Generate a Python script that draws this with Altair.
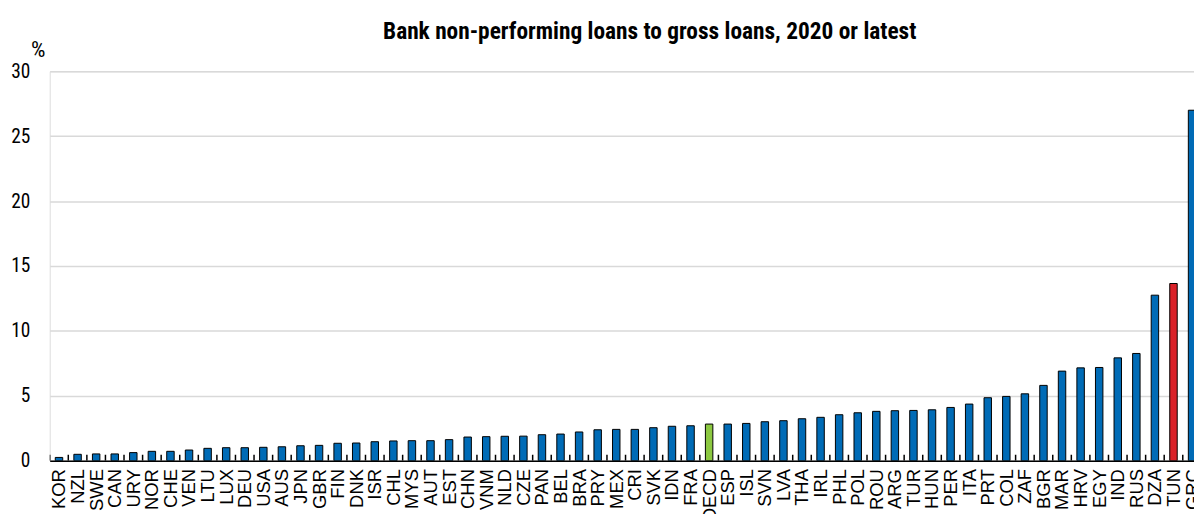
import altair as alt
import pandas as pd

countries = ["KOR", "NZL", "SWE", "CAN", "URY", "NOR", "CHE", "VEN", "LTU", "LUX",
             "DEU", "USA", "AUS", "JPN", "GBR", "FIN", "DNK", "ISR", "CHL", "MYS",
             "AUT", "EST", "CHN", "VNM", "NLD", "CZE", "PAN", "BEL", "BRA", "PRY",
             "MEX", "CRI", "SVK", "IDN", "FRA", "OECD", "ESP", "ISL", "SVN", "LVA",
             "THA", "IRL", "PHL", "POL", "ROU", "ARG", "TUR", "HUN", "PER", "ITA",
             "PRT", "COL", "ZAF", "BGR", "MAR", "HRV", "EGY", "IND", "RUS", "DZA",
             "TUN", "GRC"]
values = [0.25, 0.49, 0.52, 0.52, 0.62, 0.72, 0.72, 0.82, 0.95, 1.0,
          1.0, 1.03, 1.07, 1.15, 1.18, 1.34, 1.36, 1.46, 1.52, 1.54,
          1.54, 1.62, 1.82, 1.85, 1.88, 1.89, 2.0, 2.05, 2.21, 2.38,
          2.41, 2.41, 2.54, 2.65, 2.69, 2.82, 2.82, 2.87, 3.0, 3.08,
          3.23, 3.34, 3.54, 3.69, 3.80, 3.85, 3.87, 3.92, 4.1, 4.36,
          4.85, 4.95, 5.15, 5.8, 6.9, 7.15, 7.18, 7.92, 8.26, 12.75,
          13.65, 27.0]
highlight = {"OECD": "OECD", "TUN": "TUN"}

df = pd.DataFrame({"country": countries, "value": values,
                   "pos": list(range(len(countries)))})
df["grp"] = [highlight.get(c, "other") for c in countries]

NARROW = "Liberation Sans Narrow, Arial Narrow, Roboto Condensed, Liberation Sans, Arial"
REG = "Liberation Sans, Arial, sans-serif"

W = 1152
band = 18.70
# visible window: first band starts at the left edge, last band is cut by the right edge
x_domain = [-0.5, W / band - 0.5]
label_expr = "[" + ",".join("'%s'" % c for c in countries) + "][datum.value]"

xscale = alt.Scale(domain=x_domain, nice=False, zero=False, padding=0)

bars = alt.Chart(df).mark_bar(size=7.5, stroke="black", strokeWidth=1, clip=True).encode(
    x=alt.X("pos:Q", scale=xscale,
            axis=alt.Axis(title=None, values=list(range(len(countries))),
                          tickCount=200,
                          labelExpr=label_expr, labelAngle=-90, labelAlign="right",
                          labelBaseline="middle", labelFont=REG, labelFontSize=18.5,
                          labelColor="black", labelPadding=8, ticks=False, grid=False,
                          labelFlush=False, labelBound=False, labelOverlap=False,
                          domainColor="black", domainWidth=1.5)),
    y=alt.Y("value:Q", scale=alt.Scale(domain=[0, 30], nice=False),
            axis=alt.Axis(values=[0, 5, 10, 15, 20, 25, 30], title="%", titleAngle=0,
                          titleX=-12, titleY=-15, titleAlign="center",
                          titleBaseline="alphabetic", titleFont=NARROW,
                          titleFontSize=23, titleFontWeight="normal", titleColor="black",
                          labelFont=NARROW, labelFontSize=19.5, labelColor="black",
                          labelPadding=20, ticks=False, domain=False,
                          gridColor="#d9d9d9", gridWidth=1.5)),
    color=alt.Color("grp:N", scale=alt.Scale(domain=["other", "OECD", "TUN"],
                                             range=["#006BB6", "#8CC841", "#DA2128"]),
                    legend=None),
)

ticks = alt.Chart(df).mark_rule(color="black", strokeWidth=1.5, clip=True).encode(
    x=alt.X("pos:Q", scale=xscale),
    xOffset=alt.value(-band / 2),
    y=alt.Y(datum=0),
    y2=alt.Y2(datum=0.46),
)

chart = alt.layer(bars, ticks).properties(
    width=W,
    height=392,
    title=alt.TitleParams("Bank non-performing loans to gross loans, 2020 or latest",
                          font=NARROW, fontSize=23.5, fontWeight="bold", color="black",
                          anchor="middle", dx=28, offset=0, dy=24, baseline="alphabetic"),
    padding={"left": 42, "top": 62, "right": 0, "bottom": 56},
    autosize=alt.AutoSizeParams(type="none"),
).configure_view(stroke=None).configure(background="white")

chart.save("out.html", embed_options={"renderer": "svg", "actions": False})
